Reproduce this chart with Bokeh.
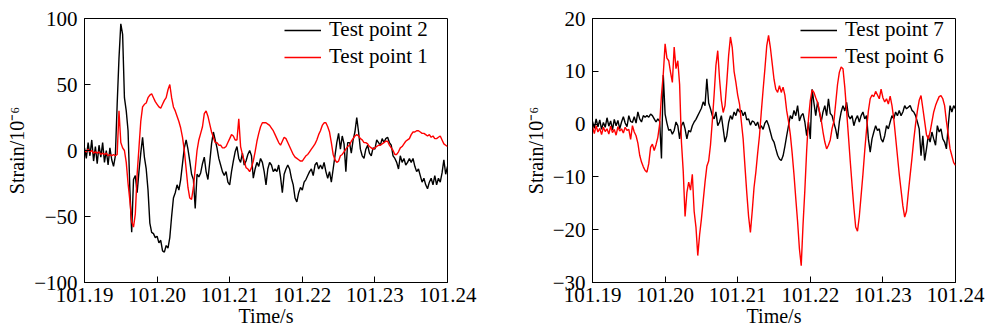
import numpy as np
from bokeh.plotting import figure
from bokeh.layouts import row
from bokeh.models import Range1d, CustomJSTickFormatter, FixedTicker
from bokeh.embed import file_html
from bokeh.resources import INLINE

# sampling instants (s), 0.25 ms apart
time = np.round(np.linspace(101.19, 101.24, 201), 5)

x_ticks = [101.19, 101.20, 101.21, 101.22, 101.23, 101.24]
y_ticks_left = [-100, -50, 0, 50, 100]
y_ticks_right = [-30, -20, -10, 0, 10, 20]

# Left panel: Test point 2 (black) and Test point 1 (red), strain in 1e-6
tp2 = [2, -6, 6, -4, 8, -8, 3, -10, 4, -5,
       6, -9, 0, -11, 2, -7, -12, -4, 35, 70,
       96, 88, 40, 30, 15, -30, -62, -22, -19, -32,
       -16, -2, 10, -5, -14, -30, -55, -62, -63, -66,
       -65, -70, -68, -76, -77, -72, -74, -66, -50, -36,
       -32, -26, -30, -22, -10, 2, 8, 1, -8, -18,
       -22, -44, -18, -20, -17, -10, -5, -16, -22, -9,
       5, 14, 8, 2, -6, -11, -16, -19, -16, -24,
       -26, -16, -8, -1, 3, -6, -9, -2, -11, -8,
       -3, 0, -4, -21, -14, -9, -12, -6, -9, -16,
       -26, -14, -9, -11, -16, -14, -16, -11, -20, -32,
       -18, -14, -11, -14, -21, -26, -36, -39, -32, -28,
       -30, -24, -22, -19, -16, -14, -19, -11, -9, -14,
       -11, -14, -9, -16, -21, -16, -24, -14, -4, 6,
       13, 1, 11, 5, -16, 6, 6, -2, 8, 14,
       25, 14, 1, -4, -6, 1, 4, -2, -4, 2,
       1, 8, 6, 4, 9, 6, 9, 10, 6, 4,
       -4, -6, -9, -14, -4, -9, -6, -11, -9, -6,
       -9, -6, -12, -16, -14, -19, -24, -21, -26, -29,
       -24, -21, -26, -19, -26, -21, -24, -17, -7, -18,
       -12]

tp1 = [0, -1, 1, -1, 0, -2, -1, -2, -1, -3,
       -2, -3, -2, -4, -3, -4, -3, -4, -3, 30,
       6, 2, 0, -9, -25, -38, -54, -58, -48, -18,
       2, 22, 33, 35, 36, 40, 42, 43, 40, 37,
       35, 33, 32, 35, 38, 40, 46, 50, 40, 33,
       30, 26, 22, 17, 10, 0, -14, -28, -36, -37,
       -28, -14, 0, 8, 13, 18, 28, 30, 26, 20,
       14, 10, 6, 6, 4, 4, 2, 2, 3, 6,
       9, 12, 11, 8, 8, 24, 3, -3, -8, -13,
       -14, -16, -13, -8, -1, 7, 13, 18, 21, 21,
       21, 20, 19, 17, 15, 12, 9, 6, 4, 7,
       10, 9, 6, 3, 0, -3, -5, -6, -7, -8,
       -8, -6, -4, -3, -1, 1, 3, 5, 8, 12,
       15, 19, 21, 21, 18, 14, 6, -3, -7, -9,
       -8, -4, -3, -1, 1, 3, 4, 7, 9, 11,
       12, 11, 9, 8, 6, 6, 5, 3, 2, 1,
       2, 3, 4, 4, 5, 6, 7, 7, 4, 2,
       0, -3, -3, -1, 2, 3, 5, 7, 8, 9,
       12, 14, 14, 15, 15, 14, 13, 13, 12, 11,
       12, 10, 11, 9, 9, 10, 11, 8, 5, 4,
       3]

# Right panel: Test point 7 (black) and Test point 6 (red)
tp7 = [0.5, -0.8, 1.0, -0.5, 0.8, -1.0, 0.3, -0.6, 1.2, -0.4,
       0.6, -1.1, 0.9, -0.3, 0.7, -0.9, 0.4, 1.4, 0.2, -0.5,
       1.6, 0.5, 0.3, 1.4, 0.2, 2.3, 1.0, 0.4, 1.6, 1.3,
       1.6, 1.3, 1.9, 1.6, 1.0, 0.4, 1.0, 0.5, -6.5, 9.3,
       1.9, 0.2, -1.2, -1.0, -1.9, -1.2, 0.4, -0.3, -2.8, -0.3,
       0.4, -0.9, -2.8, -1.2, -1.5, -0.3, 0.4, 0.9, 1.6, 2.3,
       3.0, 4.2, 3.5, 8.6, 4.0, 2.9, 1.6, 1.0, 2.3, -0.3,
       0.4, 1.6, -0.9, -3.4, -2.2, 0.3, 1.6, 0.9, 2.3, 1.6,
       2.9, 2.3, 2.6, 1.6, 2.3, 0.8, 1.0, -0.2, 0.6, 0.4,
       -0.3, 0.4, -0.9, -0.3, -1.0, 0.2, 0.7, -0.2, -1.5, -2.8,
       -3.4, -4.7, -5.9, -6.6, -6.9, -6.0, -4.2, -2.2, -0.3, 1.6,
       1.0, 2.6, 1.6, 3.5, 0.6, 1.6, 2.0, 0.4, -2.2, 0.4,
       -2.8, 6.6, 4.0, 1.6, 4.2, 2.3, 0.4, 2.3, 3.5, 1.6,
       4.8, 2.0, 1.6, 0.2, -1.0, -2.8, 0.4, 2.3, 3.5, 2.5,
       4.1, 1.6, 1.0, 1.6, -0.3, 0.9, 1.6, 0.4, 1.6, 2.3,
       1.0, 1.6, -2.8, -5.3, -2.8, -1.5, -0.3, -1.2, -0.9, -2.8,
       -3.4, -2.2, -0.3, -0.9, 0.4, 1.6, 1.0, 2.3, 1.6, 2.6,
       1.6, 2.3, 3.5, 2.9, 3.2, 3.5, 2.6, 2.3, 1.6, 0.4,
       -0.9, -6.0, -2.2, -6.9, -4.7, -2.2, -3.4, -1.5, -2.8, -4.0,
       -0.3, -1.5, -0.9, -2.8, -3.4, -4.7, -0.3, 3.5, 2.3, 3.5,
       2.9]

tp6 = [-0.5, -1.8, -0.3, -1.5, -0.8, -2.0, -0.6, -1.4, -0.9, -1.9,
       -0.4, -1.6, -1.0, -2.1, -0.5, -1.3, -0.9, -1.7, -0.6, -1.2,
       -1.0, -2.9, -0.3, -1.5, -2.2, -3.6, -5.9, -7.2, -8.1, -8.8,
       -9.1, -7.5, -4.4, -3.8, -5.0, -3.9, -2.5, 0.0, 5.5, 9.5,
       15.2, 12.5, 12.0, 9.8, 7.9, 14.6, 10.5, 12.0, 7.5, -3.4,
       -9.0, -17.5, -13.0, -11.0, -12.5, -9.5, -16.5, -19.5, -24.9, -21.0,
       -18.0, -14.5, -11.0, -8.0, -7.0, -4.0, 0.5, 5.5, 11.1, 13.9,
       8.5, 4.5, 2.2, 3.5, 8.0, 13.0, 16.5, 14.5, 10.0, 7.9,
       5.5, 3.8, 0.5, -2.8, -8.0, -13.0, -17.5, -20.5, -16.5, -12.0,
       -9.1, -5.5, -2.2, 2.3, 6.5, 10.5, 14.8, 16.8, 14.5, 11.5,
       8.5, 6.6, 6.0, 7.3, 6.0, 7.0, 5.5, 2.5, 0.5, -2.0,
       -5.5, -9.5, -14.1, -18.5, -23.6, -26.8, -19.0, -12.5, -5.0, 1.0,
       4.5, 6.5, 6.0, 5.0, 4.1, 2.5, 0.8, -1.5, -3.4, -4.7,
       -4.0, -3.0, -0.8, 0.5, 4.0, 7.5, 9.8, 10.8, 10.5, 7.0,
       2.5, -2.2, -7.0, -11.5, -15.8, -19.5, -20.3, -17.5, -13.5, -9.5,
       -5.0, -1.0, 2.5, 4.8, 5.5, 5.2, 6.2, 5.5, 4.8, 6.6,
       5.0, 4.2, 4.8, 3.8, 5.3, 3.5, 1.0, -2.5, -6.0, -9.5,
       -12.5, -15.5, -17.6, -16.5, -13.0, -9.7, -6.5, -3.0, 0.0, 2.5,
       4.5, 5.4, 3.0, 0.5, -2.0, -2.8, -1.5, 0.4, 2.3, 3.5,
       4.4, 5.2, 5.4, 4.8, 3.5, 0.5, -2.0, -4.7, -6.0, -7.3,
       -7.8]

FONT = "Liberation Serif"


def make_panel(width, border_left, border_right, y_lo, y_hi, y_ticks,
               black_vals, black_label, red_vals, red_label, legend_x):
    p = figure(width=width, height=334, output_backend="svg", toolbar_location=None,
               x_range=Range1d(101.19, 101.24), y_range=Range1d(y_lo, y_hi),
               min_border_left=border_left, min_border_right=border_right,
               min_border_top=18, min_border_bottom=52)
    p.background_fill_color = "white"
    p.border_fill_color = "white"
    p.outline_line_color = "black"
    p.outline_line_width = 1
    p.outline_line_alpha = 1
    p.xgrid.visible = False
    p.ygrid.visible = False

    p.line(time, black_vals, line_color="black", line_width=1.4, legend_label=black_label)
    p.line(time, red_vals, line_color="#ff0000", line_width=1.4, legend_label=red_label)

    p.xaxis.ticker = FixedTicker(ticks=x_ticks)
    p.yaxis.ticker = FixedTicker(ticks=y_ticks)
    p.xaxis.formatter = CustomJSTickFormatter(code="return tick.toFixed(2);")
    p.yaxis.formatter = CustomJSTickFormatter(
        code="return (tick < 0 ? '\\u2212' : '') + Math.abs(tick).toFixed(0);")

    for ax in (p.xaxis[0], p.yaxis[0]):
        ax.axis_line_color = "black"
        ax.major_tick_line_color = "black"
        ax.major_tick_in = 6
        ax.major_tick_out = 0
        ax.minor_tick_line_color = None
        ax.major_label_text_font = FONT
        ax.major_label_text_font_size = "21px"
        ax.major_label_text_color = "black"
        ax.axis_label_text_font = FONT
        ax.axis_label_text_font_size = "20px"
        ax.axis_label_text_font_style = "normal"
        ax.axis_label_text_color = "black"

    p.xaxis.axis_label = "Time/s"
    p.yaxis.axis_label = "Strain/10\u207b\u2076"
    p.xaxis.major_label_standoff = 5
    p.xaxis.axis_label_standoff = 0
    p.yaxis.major_label_standoff = 7
    p.yaxis.axis_label_standoff = 3

    lg = p.legend[0]
    lg.location = (legend_x, 213)
    lg.background_fill_alpha = 0
    lg.border_line_color = None
    lg.label_text_font = FONT
    lg.label_text_font_size = "21px"
    lg.label_text_color = "black"
    lg.glyph_width = 37
    lg.glyph_height = 20
    lg.label_height = 20
    lg.label_standoff = 8
    lg.padding = 0
    lg.margin = 0
    lg.spacing = 2
    return p


left = make_panel(493, 84, 46, -100, 100, y_ticks_left,
                  tp2, "Test point 2", tp1, "Test point 1", 200)
right = make_panel(494, 99, 32, -30, 20, y_ticks_right,
                   tp7, "Test point 7", tp6, "Test point 6", 208)

layout = row(left, right)
open("out.html", "w").write(file_html(layout, INLINE))
